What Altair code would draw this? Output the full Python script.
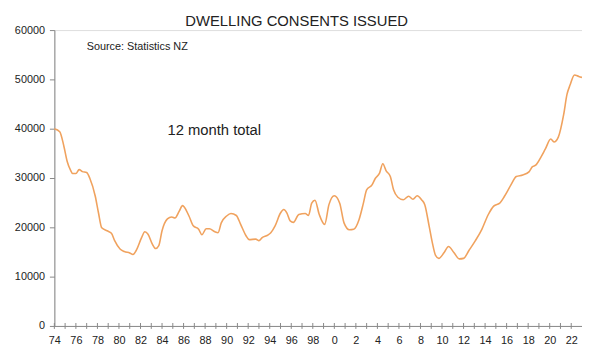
import altair as alt
import pandas as pd

years = [1974.0, 1974.5, 1974.9, 1975.2, 1975.5, 1975.7, 1976.0, 1976.3, 1976.6, 1977.0,
         1977.3, 1977.8, 1978.1, 1978.4, 1978.9, 1979.3, 1979.6, 1980.1, 1980.5, 1981.0,
         1981.3, 1981.6, 1982.1, 1982.4, 1982.7, 1983.1, 1983.4, 1983.7, 1984.0, 1984.5,
         1984.9, 1985.2, 1985.6, 1985.9, 1986.5, 1986.9, 1987.4, 1987.7, 1988.1, 1988.4,
         1988.9, 1989.2, 1989.5, 1990.0, 1990.4, 1990.9, 1991.3, 1991.8, 1992.1, 1992.7,
         1993.0, 1993.3, 1993.8, 1994.1, 1994.5, 1995.0, 1995.3, 1995.6, 1995.9, 1996.2,
         1996.7, 1997.3, 1997.6, 1997.9, 1998.2, 1998.6, 1999.1, 1999.5, 2000.0, 2000.5,
         2000.9, 2001.4, 2001.8, 2002.3, 2002.7, 2003.0, 2003.5, 2003.8, 2004.2, 2004.5,
         2004.8, 2005.2, 2005.5, 2005.9, 2006.4, 2006.9, 2007.3, 2007.7, 2008.1, 2008.4,
         2008.8, 2009.1, 2009.4, 2009.7, 2010.2, 2010.6, 2011.1, 2011.6, 2012.0, 2012.5,
         2013.1, 2013.7, 2014.3, 2014.8, 2015.4, 2015.8, 2016.4, 2016.9, 2017.5, 2018.1,
         2018.4, 2018.7, 2019.2, 2019.6, 2020.1, 2020.4, 2020.8, 2021.3, 2021.6, 2021.9,
         2022.3, 2022.7, 2023.0]
consents = [40000, 39400, 36300, 33300, 31600, 30900, 30900, 31700, 31300, 31100,
            29900, 26300, 22900, 19900, 19300, 18800, 17300, 15600, 15100, 14800,
            14500, 15300, 17900, 19100, 18600, 16600, 15700, 16300, 19300, 21700,
            22100, 21900, 23300, 24400, 22300, 20300, 19600, 18500, 19700, 19700,
            19100, 18900, 20900, 22300, 22800, 22400, 20600, 18300, 17500, 17600,
            17300, 17900, 18400, 18900, 20300, 22900, 23600, 22900, 21300, 21000,
            22600, 22800, 22400, 24900, 25500, 22600, 20600, 24600, 26400, 24900,
            20900, 19500, 19600, 21600, 24900, 27600, 28600, 29900, 31000, 32900,
            31500, 30300, 27600, 26100, 25600, 26300, 25700, 26400, 25600, 24600,
            20300, 16900, 14300, 13700, 14900, 16100, 14900, 13600, 13700, 15300,
            17300, 19600, 22600, 24300, 25000, 26300, 28600, 30300, 30600, 31300,
            32300, 32600, 34300, 35900, 37900, 37300, 38300, 42900, 46900, 48900,
            50900, 50600, 50400]

tick_years = list(range(1974, 2023))
label_years = list(range(1974, 2023, 2))
y_ticks = [0, 10000, 20000, 30000, 40000, 50000, 60000]

title_text = "DWELLING CONSENTS ISSUED"
source_text = "Source: Statistics NZ"
note_text = "12 month total"

df = pd.DataFrame({"year": years, "value": consents})
ticks_df = pd.DataFrame({"year": tick_years, "lo": [-600] * len(tick_years),
                         "hi": [600] * len(tick_years)})

FONT = "Liberation Sans"
x_scale = alt.Scale(domain=[1974, 2023], nice=False, zero=False)
y_scale = alt.Scale(domain=[0, 60000], nice=False)

x_axis = alt.Axis(values=label_years, title=None, grid=False, tickSize=0,
                  labelExpr="toString(datum.value % 100)",
                  labelPadding=9, labelFont=FONT, labelFontSize=11,
                  labelColor="#222", domainColor="#888", labelOverlap=False,
                  labelFlush=False)
y_axis = alt.Axis(values=y_ticks, title=None, grid=False, tickSize=5,
                  tickColor="#888", domainColor="#888", format="d",
                  labelPadding=5, labelFont=FONT, labelFontSize=11,
                  labelColor="#222")

line = alt.Chart(df).mark_line(color="#F0A25E", strokeWidth=1.6, interpolate="monotone").encode(
    x=alt.X("year:Q", scale=x_scale, axis=x_axis),
    y=alt.Y("value:Q", scale=y_scale, axis=y_axis),
)

xticks = alt.Chart(ticks_df).mark_rule(color="#888", strokeWidth=1).encode(
    x=alt.X("year:Q", scale=x_scale, axis=x_axis),
    y=alt.Y("lo:Q", scale=y_scale, axis=y_axis),
    y2="hi:Q",
)

def label(text, x, y, size, align):
    return alt.Chart(pd.DataFrame({"t": [text], "x": [x], "y": [y]})).mark_text(
        font=FONT, fontSize=size, color="#222", align=align, baseline="alphabetic").encode(
        x=alt.X("x:Q", scale=x_scale, axis=x_axis),
        y=alt.Y("y:Q", scale=y_scale, axis=y_axis),
        text="t:N")

title = label(title_text, 1996.5, 60800, 15, "center")
source = label(source_text, 1977.0, 56000, 11, "left")
note = label(note_text, 1984.5, 38800, 15, "left")

chart = alt.layer(line, xticks, title, source, note).properties(
    width=535, height=300,
    autosize=alt.AutoSizeParams(type="none"),
    padding={"left": 47, "top": 20, "right": 0, "bottom": 22},
).configure_view(stroke="#888", strokeWidth=1).configure(background="white")

chart.save("out.html", embed_options={"renderer": "svg", "actions": False})
